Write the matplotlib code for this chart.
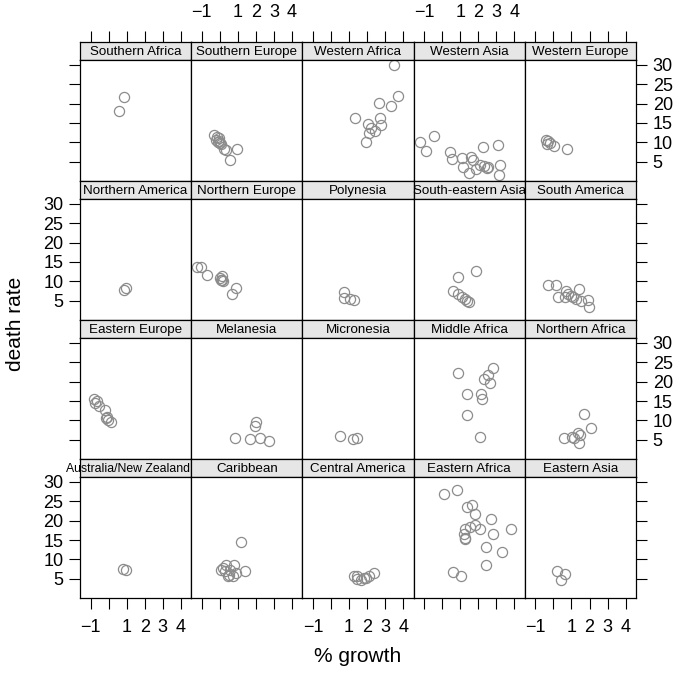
import matplotlib
matplotlib.use("Agg")
import matplotlib.pyplot as plt

plt.rcParams['font.family'] = ['Liberation Sans', 'DejaVu Sans']

# ---- data: % growth (x) and death rate (y) by region ----
australia_nz_x = [0.80, 0.99]
australia_nz_y = [7.6, 7.4]
caribbean_x = [1.17, 0.16, 0.35, 0.81, 1.42, 0.26, 0.53, 0.72, 0.44, 0.90, 0.55, 0.06]
caribbean_y = [14.5, 7.9, 8.5, 8.7, 7.0, 7.0, 6.1, 5.7, 5.7, 6.6, 7.2, 7.4]
central_america_x = [1.27, 1.42, 1.46, 1.64, 1.83, 2.11, 2.38, 1.95]
central_america_y = [5.7, 5.1, 5.7, 4.8, 5.3, 5.7, 6.6, 5.2]
eastern_africa_x = [0.11, 0.81, 1.40, 1.64, 1.83, 2.69, 3.80, 1.83, 1.55, 1.27,
                    2.10, 2.84, 1.18, 1.24, 1.27, 2.43, 3.30, 2.43, 0.59, 1.03]
eastern_africa_y = [27.0, 27.9, 23.5, 24.1, 21.8, 20.5, 17.8, 18.8, 18.4, 17.8,
                    17.8, 16.6, 16.6, 15.6, 15.2, 13.2, 11.9, 8.5, 6.8, 5.7]
eastern_asia_x = [0.21, 0.63, 0.41]
eastern_asia_y = [7.1, 6.2, 4.8]

eastern_europe_x = [-0.84, -0.74, -0.63, -0.51, -0.18, -0.14, -0.05, 0.14, -0.10]
eastern_europe_y = [15.4, 14.5, 14.9, 13.6, 12.8, 10.6, 10.2, 9.7, 11.0]
melanesia_x = [0.84, 1.70, 1.94, 2.03, 2.25, 2.74]
melanesia_y = [5.6, 5.2, 8.6, 9.7, 5.6, 4.8]
micronesia_x = [0.52, 1.21, 1.43]
micronesia_y = [6.0, 5.2, 5.4]
middle_africa_x = [0.89, 2.81, 2.54, 2.30, 2.63, 1.40, 2.17, 2.23, 1.40, 2.08]
middle_africa_y = [22.2, 23.6, 21.6, 20.6, 19.7, 16.9, 16.9, 15.4, 11.5, 5.8]
northern_africa_x = [1.69, 2.09, 0.57, 1.03, 1.36, 1.45, 1.39, 1.15]
northern_africa_y = [11.6, 8.0, 5.6, 5.8, 6.7, 6.2, 4.2, 5.6]

northern_america_x = [0.83, 0.96]
northern_america_y = [7.8, 8.3]
northern_europe_x = [-1.29, -1.05, -0.74, 0.10, 0.05, 0.14, 0.20, 0.00, 0.87, 0.65]
northern_europe_y = [13.8, 13.6, 11.6, 11.3, 10.4, 10.3, 10.0, 10.8, 8.3, 6.8]
polynesia_x = [0.70, 0.74, 1.03, 1.25]
polynesia_y = [7.2, 5.7, 5.4, 5.2]
se_asia_x = [0.89, 1.90, 0.58, 0.89, 1.26, 1.38, 1.49, 1.07]
se_asia_y = [11.1, 12.7, 7.4, 6.8, 5.4, 5.0, 4.6, 6.1]
south_america_x = [-0.29, 0.16, 0.26, 0.71, 0.80, 0.99, 1.08, 1.39, 1.54, 1.90, 1.99, 1.26, 0.62]
south_america_y = [9.0, 9.0, 6.1, 7.6, 6.8, 6.3, 5.9, 8.1, 5.0, 5.2, 3.4, 5.4, 5.9]

southern_africa_x = [0.87, 0.58]
southern_africa_y = [21.8, 18.0]
southern_europe_x = [-0.30, -0.21, -0.03, -0.12, 0.06, 0.25, 0.34, 0.94, 0.56, -0.15, -0.05, 0.00]
southern_europe_y = [11.9, 10.6, 11.0, 10.1, 9.7, 8.4, 7.9, 8.2, 5.5, 11.3, 10.4, 9.9]
western_africa_x = [3.52, 3.74, 3.32, 2.64, 2.74, 2.75, 1.32, 2.06, 2.24, 2.46, 2.13, 1.95]
western_africa_y = [29.9, 21.9, 19.4, 20.2, 16.4, 14.4, 16.4, 14.8, 13.7, 13.0, 12.4, 10.1]
western_asia_x = [-1.25, -0.48, -0.88, 0.43, 0.52, 1.07, 1.16, 1.62, 1.71, 1.49,
                  1.86, 2.26, 2.30, 2.48, 3.09, 3.18, 3.13, 2.54, 2.08]
western_asia_y = [10.0, 11.6, 7.7, 7.5, 5.7, 6.0, 3.7, 6.1, 5.5, 2.2,
                  3.1, 8.8, 3.9, 3.5, 9.3, 4.2, 1.7, 3.7, 4.2]
western_europe_x = [-0.44, -0.38, -0.20, 0.04, 0.77, -0.30]
western_europe_y = [10.6, 9.7, 9.9, 9.1, 8.3, 10.3]

# panel rows, top to bottom
panels = [
    [("Southern Africa", southern_africa_x, southern_africa_y),
     ("Southern Europe", southern_europe_x, southern_europe_y),
     ("Western Africa", western_africa_x, western_africa_y),
     ("Western Asia", western_asia_x, western_asia_y),
     ("Western Europe", western_europe_x, western_europe_y)],
    [("Northern America", northern_america_x, northern_america_y),
     ("Northern Europe", northern_europe_x, northern_europe_y),
     ("Polynesia", polynesia_x, polynesia_y),
     ("South-eastern Asia", se_asia_x, se_asia_y),
     ("South America", south_america_x, south_america_y)],
    [("Eastern Europe", eastern_europe_x, eastern_europe_y),
     ("Melanesia", melanesia_x, melanesia_y),
     ("Micronesia", micronesia_x, micronesia_y),
     ("Middle Africa", middle_africa_x, middle_africa_y),
     ("Northern Africa", northern_africa_x, northern_africa_y)],
    [("Australia/New Zealand", australia_nz_x, australia_nz_y),
     ("Caribbean", caribbean_x, caribbean_y),
     ("Central America", central_america_x, central_america_y),
     ("Eastern Africa", eastern_africa_x, eastern_africa_y),
     ("Eastern Asia", eastern_asia_x, eastern_asia_y)],
]

xticks = [-1, 0, 1, 2, 3, 4]
xticklabels = ['\u22121', '', '1', '2', '3', '4']
yticks = [5, 10, 15, 20, 25, 30]

#%% layout in pixels
W, H = 682, 675
fig = plt.figure(figsize=(W / 100, H / 100), dpi=100)

left, colw = 80, 111.2
top, rowh, striph = 41.7, 139.05, 18
panelh = rowh - striph


def rect(x0, y0, w, h):
    return [x0 / W, 1 - (y0 + h) / H, w / W, h / H]


tick_kw = dict(direction='out', length=8, width=0.8, labelsize=13, pad=4, color='black')

for r, row in enumerate(panels):
    for c, (name, xs, ys) in enumerate(row):
        x0 = left + c * colw
        y0 = top + r * rowh
        sax = fig.add_axes(rect(x0, y0, colw, striph))
        ax = fig.add_axes(rect(x0, y0 + striph, colw, panelh))

        ax.plot(xs, ys, 'o', mfc='none', mec='#8c8c8c', ms=7.3, mew=0.9)
        ax.set_xlim(-1.59, 4.58)
        ax.set_ylim(0.1, 31.3)
        ax.set_xticks(xticks)
        ax.set_xticklabels(xticklabels)
        ax.set_yticks(yticks)
        ax.tick_params(**tick_kw)
        ax.tick_params(axis='x', pad=7)
        ax.tick_params(bottom=(r == 3), labelbottom=(r == 3 and c % 2 == 0),
                       left=(c == 0), labelleft=(c == 0 and r % 2 == 1),
                       right=(c == 4), labelright=(c == 4 and r % 2 == 0),
                       top=False, labeltop=False)
        for sp in ax.spines.values():
            sp.set_linewidth(0.9)

        # strip
        sax.set_facecolor('#e6e6e6')
        sax.set_xlim(-1.59, 4.58)
        sax.set_yticks([])
        sax.set_xticks(xticks)
        sax.set_xticklabels(xticklabels)
        sax.tick_params(**tick_kw)
        sax.tick_params(axis='x', pad=7)
        sax.tick_params(bottom=False, labelbottom=False,
                        top=(r == 0), labeltop=(r == 0 and c % 2 == 1))
        for sp in sax.spines.values():
            sp.set_linewidth(0.9)
        if name == "Australia/New Zealand":
            sax.text(0.43, 0.45, name, transform=sax.transAxes, ha='center',
                     va='center', fontsize=8.8, clip_on=False)
        else:
            sax.text(0.5, 0.45, name, transform=sax.transAxes, ha='center',
                     va='center', fontsize=9.6)

fig.text(357.5 / W, 1 - 657 / H, '% growth', ha='center', va='center', fontsize=15)
fig.text(16 / W, 1 - 324 / H, 'death rate', ha='center', va='center',
         fontsize=15, rotation=90)

fig.savefig('out.png', dpi=100)
